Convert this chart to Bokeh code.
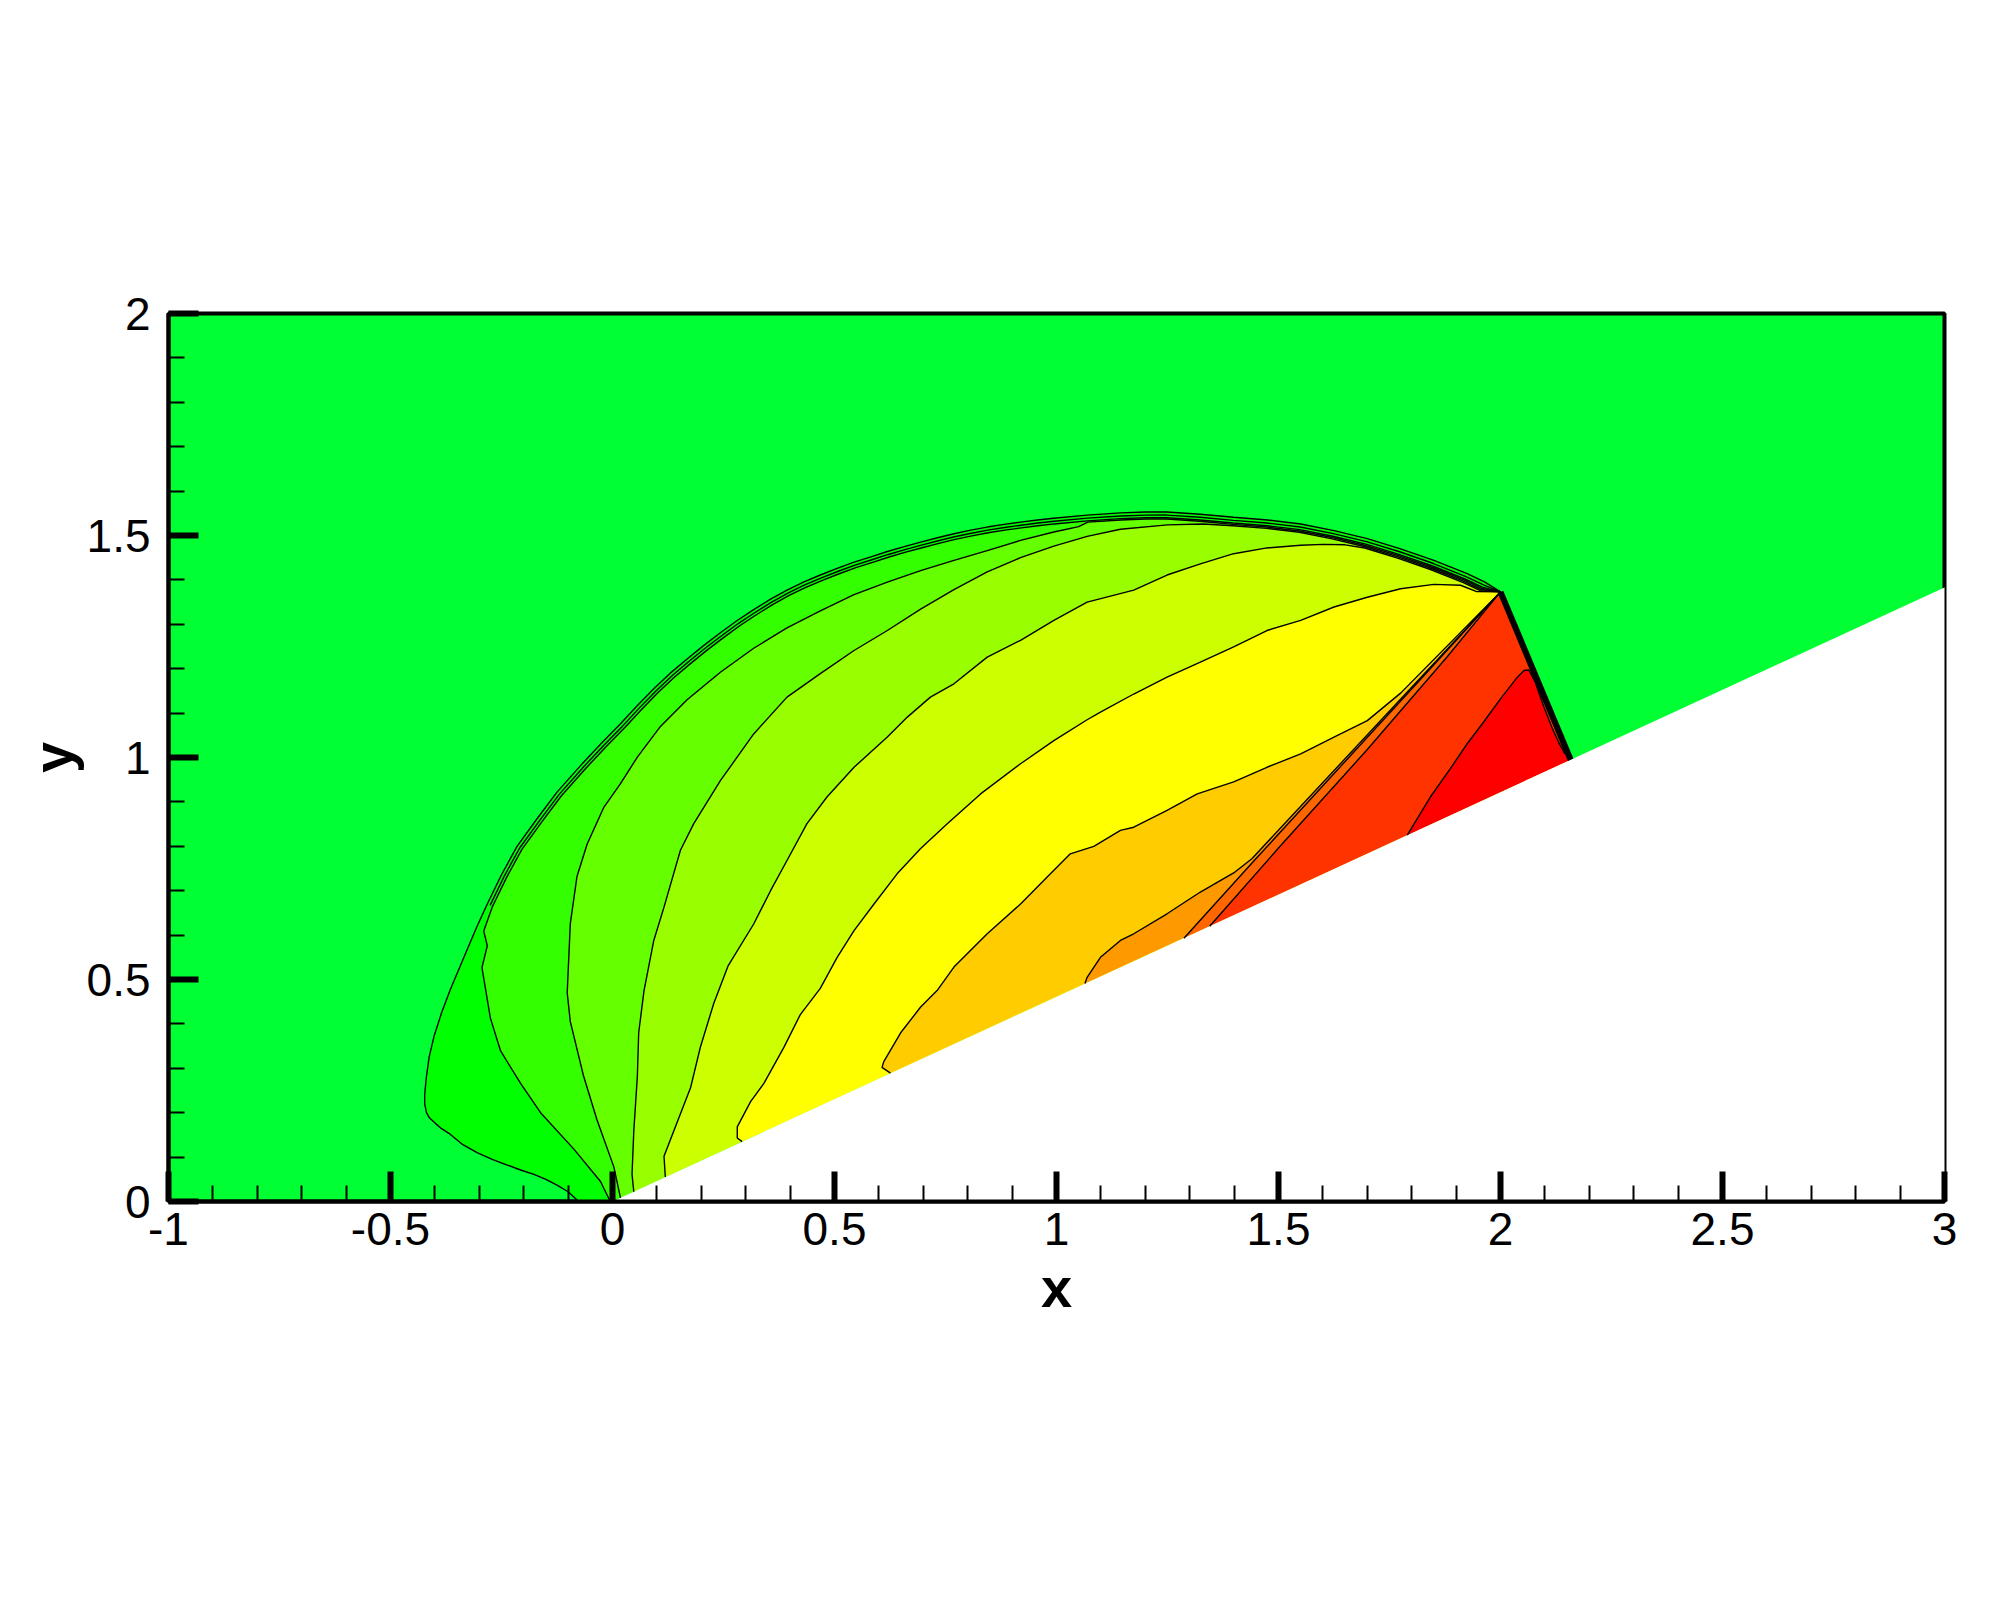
import numpy as np
from bokeh.plotting import figure
from bokeh.models import Range1d, FixedTicker
from bokeh.embed import file_html
from bokeh.resources import INLINE

# ---------------- axes / ticks ----------------
X_TICKS = [-1.0, -0.5, 0.0, 0.5, 1.0, 1.5, 2.0, 2.5, 3.0]
X_TICK_LABELS = ["-1", "-0.5", "0", "0.5", "1", "1.5", "2", "2.5", "3"]
Y_TICKS = [0.0, 0.5, 1.0, 1.5, 2.0]
Y_TICK_LABELS = ["0", "0.5", "1", "1.5", "2"]

# contour level colours (freestream first, then increasing levels)
LEVEL_COLORS = ["#00FF33", "#00FF00", "#33FF00", "#66FF00", "#99FF00", "#CCFF00",
                "#FFFF00", "#FFCC00", "#FF9900", "#FF6600", "#FF3300", "#FF0000"]

# ---------------- geometry ----------------
WEDGE_SLOPE = 0.461
SHOCK_TOP = (2.0, 1.373)
SHOCK_FOOT = (2.158, 0.995)

# outer (incident / Mach) shock front, from the wall up and over to the triple point
ARC_X = [-0.076, -0.100, -0.125, -0.150, -0.177, -0.207, -0.237, -0.271, -0.305, -0.337,
         -0.365, -0.385, -0.399, -0.412, -0.419, -0.423, -0.423, -0.421, -0.419, -0.413,
         -0.402, -0.385, -0.365, -0.346, -0.327, -0.305, -0.282, -0.250, -0.215, -0.170,
         -0.125, -0.070, -0.025, 0.018, 0.055, 0.093, 0.130, 0.168, 0.205, 0.243,
         0.280, 0.318, 0.355, 0.393, 0.430, 0.468, 0.506, 0.544, 0.582, 0.619,
         0.657, 0.694, 0.732, 0.769, 0.807, 0.844, 0.882, 0.919, 0.957, 0.994,
         1.069, 1.144, 1.200, 1.249, 1.324, 1.399, 1.475, 1.550, 1.625, 1.700,
         1.775, 1.850, 1.925, 1.965, 2.0]
ARC_Y = [0.0, 0.022, 0.037, 0.050, 0.061, 0.071, 0.082, 0.095, 0.110, 0.128,
         0.151, 0.164, 0.176, 0.188, 0.200, 0.220, 0.241, 0.262, 0.282, 0.325,
         0.372, 0.425, 0.478, 0.523, 0.568, 0.620, 0.670, 0.736, 0.800, 0.862,
         0.922, 0.984, 1.032, 1.076, 1.116, 1.155, 1.190, 1.222, 1.252, 1.281,
         1.308, 1.333, 1.356, 1.377, 1.395, 1.411, 1.426, 1.440, 1.452, 1.464,
         1.475, 1.485, 1.495, 1.504, 1.512, 1.519, 1.525, 1.530, 1.535, 1.539,
         1.546, 1.551, 1.553, 1.553, 1.548, 1.541, 1.535, 1.526, 1.511, 1.493,
         1.470, 1.444, 1.414, 1.395, 1.373]

# contour lines (start at the wall)
C2_X = [-0.005, -0.027, -0.087, -0.162, -0.207, -0.252, -0.275, -0.294, -0.282, -0.290, -0.279]
C2_Y = [0.0, 0.045, 0.118, 0.200, 0.266, 0.339, 0.413, 0.527, 0.576, 0.609, 0.640]

C3_X = [0.018, 0.003, -0.035, -0.065, -0.095, -0.102, -0.095, -0.080, -0.057, -0.020,
        0.018, 0.056, 0.108, 0.168, 0.243, 0.318, 0.393, 0.468, 0.544, 0.619,
        0.694, 0.769, 0.844, 0.919, 0.994, 1.050]
C3_Y = [0.008, 0.078, 0.184, 0.282, 0.405, 0.470, 0.626, 0.732, 0.805, 0.887,
        0.941, 1.001, 1.070, 1.130, 1.192, 1.246, 1.292, 1.330, 1.367, 1.395,
        1.421, 1.444, 1.466, 1.489, 1.508, 1.520]

C4_X = [0.048, 0.044, 0.048, 0.056, 0.059, 0.071, 0.093, 0.116, 0.153, 0.183,
        0.243, 0.318, 0.393, 0.468, 0.544, 0.619, 0.694, 0.769, 0.844, 0.919,
        0.994, 1.069, 1.144, 1.250, 1.330]
C4_Y = [0.022, 0.061, 0.159, 0.282, 0.380, 0.475, 0.588, 0.663, 0.791, 0.851,
        0.948, 1.053, 1.136, 1.189, 1.241, 1.286, 1.334, 1.378, 1.418, 1.450,
        1.476, 1.498, 1.514, 1.524, 1.526]

C5_X = [0.119, 0.116, 0.138, 0.176, 0.198, 0.228, 0.260, 0.318, 0.356, 0.393,
        0.438, 0.483, 0.544, 0.619, 0.664, 0.716, 0.769, 0.844, 0.919, 0.994,
        1.069, 1.174, 1.249, 1.324, 1.399, 1.474, 1.550, 1.600, 1.650]
C5_Y = [0.055, 0.102, 0.159, 0.257, 0.348, 0.446, 0.530, 0.625, 0.700, 0.768,
        0.851, 0.911, 0.978, 1.046, 1.091, 1.136, 1.166, 1.226, 1.264, 1.309,
        1.350, 1.377, 1.411, 1.436, 1.459, 1.472, 1.478, 1.480, 1.479]

C6_X = [0.292, 0.281, 0.281, 0.311, 0.341, 0.386, 0.423, 0.468, 0.506, 0.544,
        0.589, 0.641, 0.694, 0.754, 0.829, 0.919, 0.994, 1.069, 1.099, 1.174,
        1.249, 1.324, 1.399, 1.474, 1.550, 1.625, 1.700, 1.775, 1.850, 1.910, 1.945]
C6_Y = [0.135, 0.143, 0.168, 0.225, 0.266, 0.347, 0.421, 0.480, 0.550, 0.610,
        0.670, 0.738, 0.795, 0.851, 0.918, 0.986, 1.038, 1.085, 1.102, 1.143,
        1.181, 1.215, 1.249, 1.286, 1.309, 1.339, 1.361, 1.380, 1.390, 1.388, 1.374]

C7_X = [0.626, 0.607, 0.611, 0.649, 0.694, 0.731, 0.769, 0.844, 0.919, 0.979,
        1.031, 1.084, 1.144, 1.174, 1.249, 1.317, 1.399, 1.474, 1.550, 1.625,
        1.700, 1.775]
C7_Y = [0.289, 0.302, 0.315, 0.380, 0.438, 0.475, 0.528, 0.603, 0.670, 0.731,
        0.783, 0.800, 0.836, 0.843, 0.881, 0.918, 0.945, 0.978, 1.008, 1.046,
        1.083, 1.145]

C8_X = [1.064, 1.069, 1.099, 1.144, 1.174, 1.249, 1.324, 1.399, 1.440]
C8_Y = [0.491, 0.505, 0.550, 0.588, 0.603, 0.648, 0.697, 0.740, 0.772]

SLIP1_X = [1.287, 1.450, 1.650, 1.850]
SLIP1_Y = [0.593, 0.773, 0.991, 1.209]
SLIP2_X = [1.345, 1.500, 1.700, 1.880]
SLIP2_Y = [0.620, 0.796, 1.018, 1.227]

CR_X = [1.790, 1.842, 1.887, 1.925, 1.962, 2.000, 2.038, 2.053, 2.064, 2.078,
        2.098, 2.117, 2.133, 2.145]
CR_Y = [0.825, 0.911, 0.975, 1.031, 1.080, 1.132, 1.181, 1.196, 1.197, 1.170,
        1.113, 1.065, 1.030, 1.008]

# ---------------- build polylines ----------------
ax = np.array(ARC_X, dtype=float)
ay = np.array(ARC_Y, dtype=float)
tx = np.gradient(ax)
ty = np.gradient(ay)
tn = np.hypot(tx, ty)
tx, ty = tx / tn, ty / tn
nx, ny = ty, -tx          # inward normal
lm = int(np.argmin(ax))


def along_arc(cx, cy, d):
    ex, ey = cx[-1], cy[-1]
    ox = ax + d * nx
    oy = ay + d * ny
    idx = np.arange(lm, len(ax) - 1)
    dist = np.hypot(ox[idx] - ex, oy[idx] - ey)
    j = int(idx[np.argmin(dist)])
    if (ox[j] - ex) * tx[j] + (oy[j] - ey) * ty[j] <= 0:
        j += 1
    xs = list(cx) + list(ox[j:-1]) + [SHOCK_TOP[0]]
    ys = list(cy) + list(oy[j:-1]) + [SHOCK_TOP[1]]
    return xs, ys


def to_top(cx, cy):
    return list(cx) + [SHOCK_TOP[0]], list(cy) + [SHOCK_TOP[1]]


lines = [
    along_arc(C2_X, C2_Y, 0.013),
    along_arc(C3_X, C3_Y, 0.016),
    along_arc(C4_X, C4_Y, 0.019),
    along_arc(C5_X, C5_Y, 0.022),
    to_top(C6_X, C6_Y),
    to_top(C7_X, C7_Y),
    to_top(C8_X, C8_Y),
    to_top(SLIP1_X, SLIP1_Y),
    to_top(SLIP2_X, SLIP2_Y),
]

# second thin line hugging the shock front (upper part only)
j0 = int(np.argmin(np.hypot(ax - C2_X[-1], ay - C2_Y[-1])))
extra_x = list(ax[j0:-1] + 0.007 * nx[j0:-1]) + [SHOCK_TOP[0]]
extra_y = list(ay[j0:-1] + 0.007 * ny[j0:-1]) + [SHOCK_TOP[1]]


def closed(xs, ys):
    px = list(xs) + [SHOCK_FOOT[0]]
    py = list(ys) + [SHOCK_FOOT[1]]
    if xs[0] < 0:
        px.append(0.0)
        py.append(0.0)
    return px, py


poly_x, poly_y, poly_c = [], [], []
bx, by = closed(ARC_X, ARC_Y)
poly_x.append(bx); poly_y.append(by); poly_c.append(LEVEL_COLORS[1])
for k, (lx, ly) in enumerate(lines):
    px, py = closed(lx, ly)
    poly_x.append(px); poly_y.append(py); poly_c.append(LEVEL_COLORS[2 + k])
px = list(CR_X) + [SHOCK_FOOT[0]]
py = list(CR_Y) + [SHOCK_FOOT[1]]
poly_x.append(px); poly_y.append(py); poly_c.append(LEVEL_COLORS[11])

# ---------------- figure ----------------
FONT = "Liberation Sans"
p = figure(x_range=Range1d(-1, 3), y_range=Range1d(0, 2),
           frame_width=1776, frame_height=888,
           min_border_left=168, min_border_right=40,
           min_border_top=313, min_border_bottom=383,
           output_backend="svg", toolbar_location=None)
p.background_fill_color = LEVEL_COLORS[0]
p.border_fill_color = "white"
p.grid.visible = False
p.outline_line_color = "black"
p.outline_line_width = 4

p.patches(poly_x, poly_y, fill_color=poly_c, line_color=None)

# wedge (solid body)
p.patch([0.0, 3.1, 3.1], [0.0, 3.1 * WEDGE_SLOPE, 0.0], fill_color="white", line_color=None)

# contour lines
p.multi_line([l[0] for l in lines] + [CR_X, extra_x], [l[1] for l in lines] + [CR_Y, extra_y],
             line_color="black", line_width=1.4)
p.line(ARC_X, ARC_Y, line_color="black", line_width=1.4)
p.line([SHOCK_TOP[0], SHOCK_FOOT[0]], [SHOCK_TOP[1], SHOCK_FOOT[1]],
       line_color="black", line_width=6)

minor_x = [v for v in np.round(np.arange(-1.0, 3.0001, 0.1), 3) if v not in X_TICKS]
minor_y = [v for v in np.round(np.arange(0.0, 2.0001, 0.1), 3) if v not in Y_TICKS]
p.xaxis.ticker = FixedTicker(ticks=X_TICKS, minor_ticks=minor_x)
p.yaxis.ticker = FixedTicker(ticks=Y_TICKS, minor_ticks=minor_y)
p.xaxis.major_label_overrides = dict(zip(X_TICKS, X_TICK_LABELS))
p.yaxis.major_label_overrides = dict(zip(Y_TICKS, Y_TICK_LABELS))

for axis in (p.xaxis, p.yaxis):
    axis.axis_line_width = 4
    axis.axis_line_color = "black"
    axis.major_tick_in = 30
    axis.major_tick_out = 0
    axis.major_tick_line_width = 6
    axis.minor_tick_in = 16
    axis.minor_tick_out = 0
    axis.minor_tick_line_width = 2
    axis.major_label_text_font = FONT
    axis.major_label_text_font_size = "46px"
    axis.major_label_text_color = "black"
    axis.axis_label_text_font = FONT
    axis.axis_label_text_font_size = "56px"
    axis.axis_label_text_font_style = "bold"
    axis.axis_label_text_color = "black"

p.xaxis.axis_label = "x"
p.yaxis.axis_label = "y"
p.xaxis.major_label_standoff = 11
p.yaxis.major_label_standoff = 18
p.xaxis.axis_label_standoff = 8
p.yaxis.axis_label_standoff = 0

open("out.html", "w").write(file_html(p, INLINE))
